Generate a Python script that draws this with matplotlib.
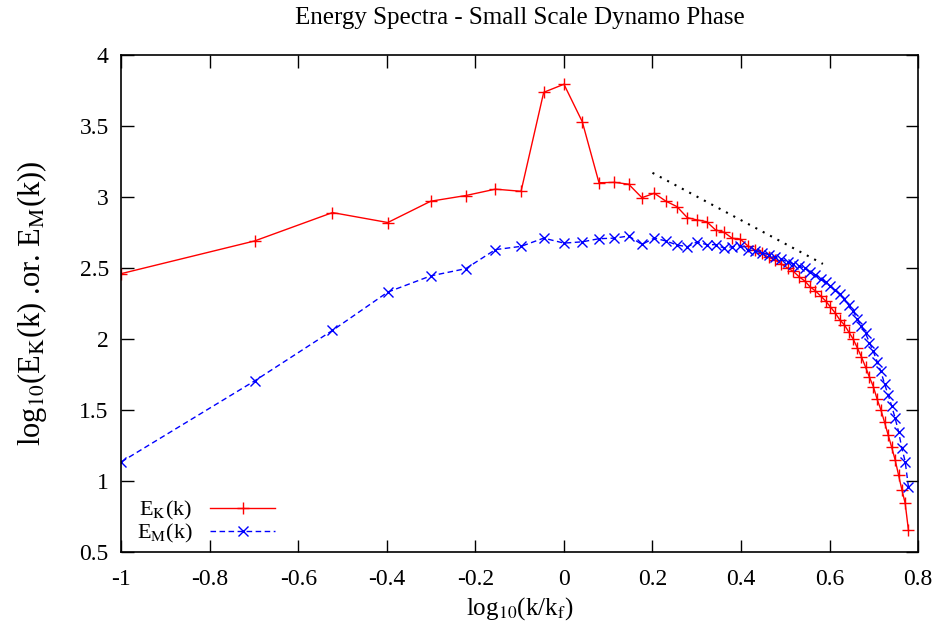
import numpy as np
from matplotlib import pyplot as plt
from matplotlib.ticker import FuncFormatter

# wavenumbers and forcing scale
k = np.arange(1, 61)
k_f = 10.0

# kinetic energy spectrum, log10 E_K(k)
ek = [2.46, 2.69, 2.89, 2.82, 2.97, 3.01, 3.055, 3.04, 3.737, 3.794,
      3.53, 3.10, 3.103, 3.09, 2.995, 3.026, 2.97, 2.932, 2.854, 2.838,
      2.826, 2.768, 2.751, 2.709, 2.704, 2.657, 2.627, 2.604, 2.575, 2.556,
      2.528, 2.50, 2.475, 2.437, 2.408, 2.366, 2.338, 2.303, 2.268, 2.225,
      2.183, 2.134, 2.099, 2.049, 2.00, 1.937, 1.873, 1.803, 1.730, 1.664,
      1.575, 1.50, 1.413, 1.324, 1.237, 1.148, 1.042, 0.937, 0.843, 0.655]

# magnetic energy spectrum, log10 E_M(k)
em = [1.134, 1.704, 2.06, 2.33, 2.444, 2.495, 2.629, 2.652, 2.71, 2.675,
      2.684, 2.706, 2.71, 2.725, 2.666, 2.71, 2.69, 2.662, 2.649, 2.684,
      2.664, 2.664, 2.64, 2.65, 2.657, 2.628, 2.62, 2.607, 2.593, 2.575,
      2.56, 2.544, 2.528, 2.514, 2.498, 2.472, 2.451, 2.423, 2.398, 2.370,
      2.342, 2.317, 2.282, 2.239, 2.197, 2.141, 2.088, 2.040, 1.974, 1.912,
      1.840, 1.771, 1.683, 1.606, 1.528, 1.442, 1.347, 1.23, 1.136, 0.96]

# -5/3 reference slope
guide_x = [0.2, 0.585]
guide_y = [3.17, 3.17 - 5.0 / 3.0 * (0.585 - 0.2)]

x_ticks = [-1, -0.8, -0.6, -0.4, -0.2, 0, 0.2, 0.4, 0.6, 0.8]
y_ticks = [0.5, 1, 1.5, 2, 2.5, 3, 3.5, 4]

plt.rcParams['font.family'] = ['Liberation Serif', 'DejaVu Serif']
plt.rcParams['mathtext.fontset'] = 'stix'

fig = plt.figure(figsize=(9.33, 6.25), dpi=100)
ax = fig.add_axes([0.130, 0.117, 0.854, 0.795])

x = np.log10(k / k_f)
ax.plot(x, ek, color='#ff0000', lw=1.0, marker='+', ms=9, mew=1.0,
        label=r'E$_{\rm K}$(k)')
ax.plot(x, em, color='#0000ff', lw=1.0, ls=(0, (4, 2.5)), marker='x', ms=7.5,
        mew=1.0, label=r'E$_{\rm M}$(k)')
ax.plot(guide_x, guide_y, color='black', lw=1.5, ls=(0, (1, 3)))

ax.set_xlim(-1, 0.8)
ax.set_ylim(0.5, 4)
ax.set_xticks(x_ticks)
ax.set_yticks(y_ticks)
fmt = FuncFormatter(lambda v, p: '%g' % round(v, 2) if abs(v) > 1e-9 else '0')
ax.xaxis.set_major_formatter(fmt)
ax.yaxis.set_major_formatter(fmt)
ax.tick_params(direction='in', length=9, width=1, top=True, right=True,
               labelsize=17)
ax.tick_params(axis='x', pad=12)
ax.tick_params(axis='y', pad=9)
for sp in ax.spines.values():
    sp.set_linewidth(1.2)

ax.set_title('Energy Spectra - Small Scale Dynamo Phase', fontsize=18, pad=22)
ax.set_xlabel(r'log$_{10}$(k/k$_{\rm f}$)', fontsize=18, labelpad=4)
ax.set_ylabel(r'log$_{10}$(E$_{\rm K}$(k) .or. E$_{\rm M}$(k))', fontsize=22,
              labelpad=22)

ax.legend(loc='lower left', bbox_to_anchor=(0.0, -0.018), frameon=False,
          markerfirst=False, handlelength=2.9, handletextpad=0.8,
          labelspacing=0.0, fontsize=16, borderaxespad=0.3)

fig.savefig('out.png', dpi=100)
